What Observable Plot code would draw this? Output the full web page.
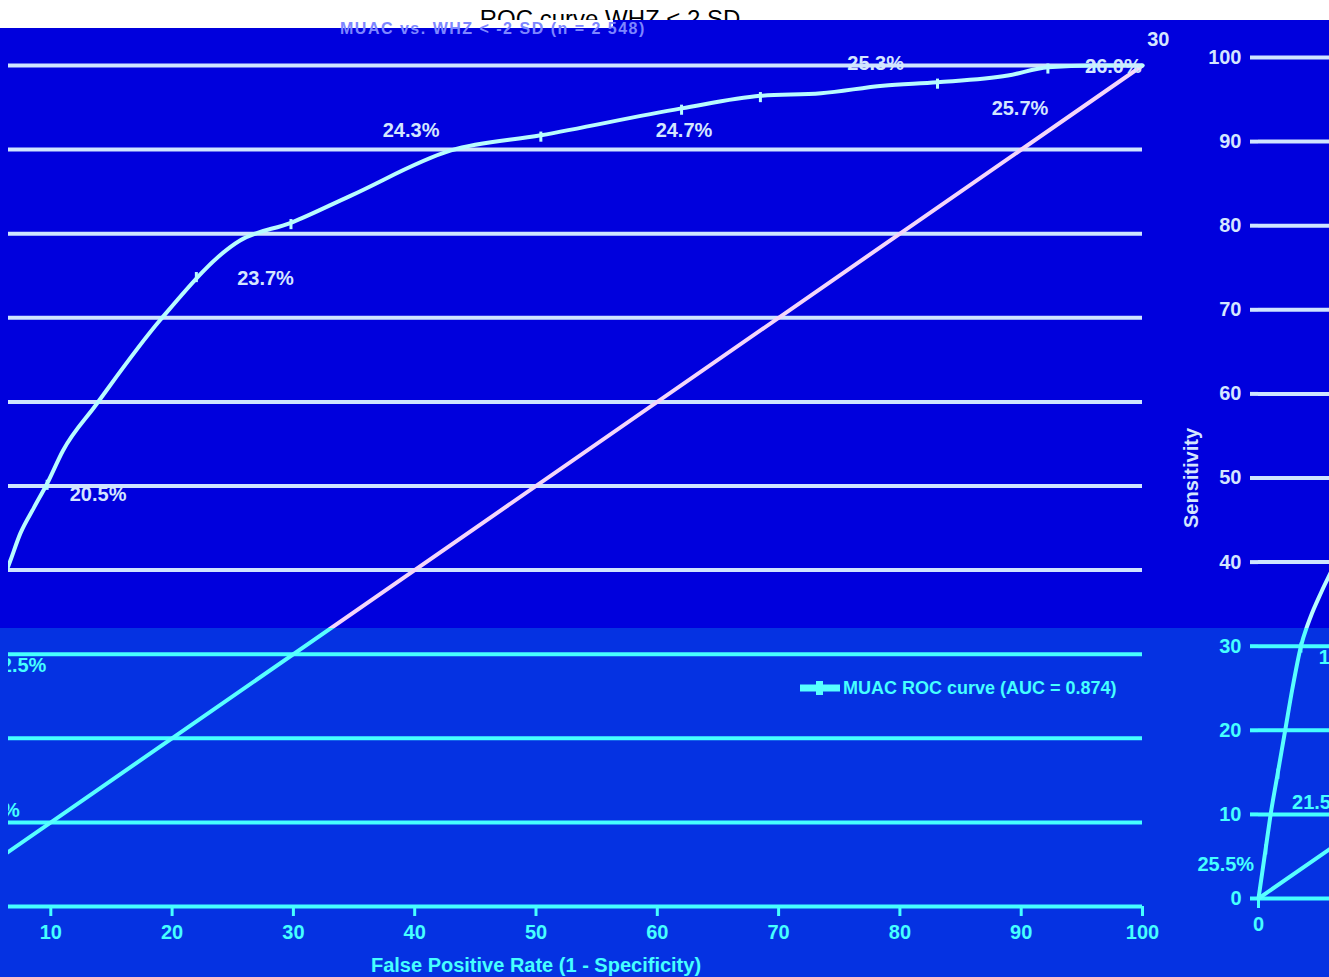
<!DOCTYPE html>
<html><head><meta charset="utf-8">
<script src="https://cdn.jsdelivr.net/npm/d3@7"></script>
<script src="https://cdn.jsdelivr.net/npm/@observablehq/plot@0.6"></script>
<style>
html,body{margin:0;padding:0;background:#fff;}
#page{position:relative;width:1329px;height:977px;overflow:hidden;background:#fff;font-family:"Liberation Sans",Arial,sans-serif;}
.clip{position:absolute;overflow:hidden;}
.clip svg{position:absolute;max-width:none !important;}
#title{position:absolute;left:0;width:1220px;top:7px;height:13px;overflow:hidden;text-align:center;font-size:24px;line-height:24px;color:#000;z-index:5;}
#subtitle{position:absolute;left:340px;top:21px;font-size:16px;line-height:15px;letter-spacing:1.5px;font-weight:bold;color:#7d86ff;z-index:6;white-space:nowrap;}
</style></head><body><div id="page"><div id="title"></div><div id="subtitle"></div></div>
<script>
// ---- data ----
const titleText = "ROC curve WHZ < 2 SD";
const subtitleText = "MUAC vs. WHZ < -2 SD (n = 2 548)";
const xLabel = "False Positive Rate (1 - Specificity)";
const yLabel = "Sensitivity";
const legendText = "MUAC ROC curve (AUC = 0.874)";
const xTicks = [0, 10, 20, 30, 40, 50, 60, 70, 80, 90, 100];
const yTicks = [0, 10, 20, 30, 40, 50, 60, 70, 80, 90, 100];

// ROC curve (false positive rate %, sensitivity %)
const fpr = [0, 0.3, 0.6, 1.0, 1.6, 2.2, 2.8, 3.5, 4.3, 5.2, 6.5, 7.5, 8.6, 9.7, 11, 13.7, 19, 25.6, 29.8, 34.7, 43, 50.4, 62, 68.5, 73.5, 78.6, 83.1, 88.9, 92.2, 96, 100];
const sensitivity = [0, 3, 6, 10, 15, 20, 25, 30, 33.5, 36.5, 40.5, 44.4, 47.4, 50.3, 54.2, 59.6, 69.7, 79.2, 81.3, 84.5, 89.9, 91.7, 94.9, 96.4, 96.7, 97.6, 98, 98.8, 99.8, 100, 100];

// chance line
const chanceFpr = [0, 100];
const chanceSens = [0, 100];

// threshold markers on the curve
const markerFpr = [0.6, 1.6, 3.5, 9.7, 22, 29.8, 50.4, 62, 68.5, 83.1, 92.2, 96];
const markerSens = [6, 15, 30, 50.3, 75, 81.3, 91.7, 94.9, 96.4, 98, 99.8, 100];

// threshold labels (text and where they sit, in data units)
const labelText = ["25.5%", "21.5%", "12.5%", "20.5%", "23.7%", "24.3%", "24.7%", "25.3%", "25.7%", "26.0%", "30"];
const labelFpr = [-2.7, 5.1, 7.3, 13.9, 27.7, 39.7, 62.2, 78.0, 89.9, 97.6, 101.3];
const labelSens = [4.0, 11.4, 28.7, 49.0, 74.7, 92.3, 92.3, 100.2, 94.9, 99.9, 103.1];

const FONT = "'Liberation Sans', Arial, sans-serif";
const palettes = {
  upper: {bg: "#0000dd", grid: "#cfe4ff", text: "#d4e6ff", curve: "#b8fcff", chance: "#f4d6fa"},
  lower: {bg: "#0532e2", grid: "#46ffff", text: "#46ffff", curve: "#58ffff", chance: "#58ffff"}
};
const W = 1380, H = 957;

function makeChart(p) {
  const roc = fpr.map((f, i) => ({f, s: sensitivity[i]}));
  const chance = chanceFpr.map((f, i) => ({f, s: chanceSens[i]}));
  const pts = markerFpr.map((f, i) => ({f, s: markerSens[i]}));
  const labels = labelText.map((t, i) => ({t, f: labelFpr[i], s: labelSens[i]}));
  const tickSym = {draw(ctx, size) { const h = Math.sqrt(size); ctx.moveTo(0, -h * 0.35); ctx.lineTo(0, h * 0.6); }};
  const legend = (index, scales, values, dims) => {
    const g = d3.create("svg:g");
    const x0 = dims.width - dims.marginRight - 342;
    const y0 = dims.height - dims.marginBottom - 218;
    g.append("line").attr("x1", x0).attr("x2", x0 + 40).attr("y1", y0).attr("y2", y0)
      .attr("stroke", p.curve).attr("stroke-width", 7);
    g.append("rect").attr("x", x0 + 16).attr("y", y0 - 7).attr("width", 7).attr("height", 14).attr("fill", p.curve);
    g.append("text").attr("x", x0 + 43).attr("y", y0).attr("dy", "0.35em").attr("fill", p.text)
      .attr("text-anchor", "start").attr("font-size", 18).attr("font-weight", "bold").text(legendText);
    return g.node();
  };
  const svg = Plot.plot({
    width: W, height: H,
    marginLeft: 108, marginRight: W - 1321, marginTop: 37, marginBottom: 79,
    style: {background: p.bg, fontFamily: FONT, fontSize: "20px", fontWeight: "bold", color: p.text, overflow: "visible"},
    x: {domain: [0, 100]},
    y: {domain: [0, 100]},
    marks: [
      Plot.gridY(yTicks, {stroke: p.grid, strokeOpacity: 1, strokeWidth: 4}),
      Plot.axisY(yTicks, {tickSize: 8, tickPadding: 9, stroke: p.grid, strokeWidth: 4, fill: p.text, label: null, fontSize: 20}),
      Plot.axisX(xTicks, {tickSize: 10, tickPadding: 8, stroke: p.grid, strokeWidth: 3, fill: p.text, label: null, fontSize: 20}),
      Plot.line(chance, {x: "f", y: "s", stroke: p.chance, strokeWidth: 4}),
      Plot.line(roc, {x: "f", y: "s", stroke: p.curve, strokeWidth: 4, curve: "monotone-x"}),
      Plot.dot(pts, {x: "f", y: "s", symbol: tickSym, r: 6, fill: "none", stroke: p.curve, strokeWidth: 3}),
      Plot.text(labels, {x: "f", y: "s", text: "t", fill: p.text, fontSize: 20, fontWeight: "bold"}),
      Plot.text([yLabel], {frameAnchor: "left", dx: -67, rotate: -90, textAnchor: "middle", fill: p.text, fontSize: 20}),
      Plot.text([xLabel], {frameAnchor: "bottom", dy: 65, textAnchor: "middle", fill: p.text, fontSize: 20}),
      legend
    ]
  });
  svg.style.maxWidth = "none";
  svg.style.width = W + "px";
  svg.style.height = H + "px";
  return svg;
}

const page = document.getElementById("page");
document.getElementById("title").textContent = titleText;
document.getElementById("subtitle").textContent = subtitleText;

// blue field under the chart
const field = document.createElement("div");
field.style.cssText = "position:absolute;left:0;top:20px;width:1329px;height:957px;background:" + palettes.upper.bg;
page.appendChild(field);
const fieldLow = document.createElement("div");
fieldLow.style.cssText = "position:absolute;left:0;top:628px;width:1329px;height:349px;background:" + palettes.lower.bg;
page.appendChild(fieldLow);
const whitePatch = document.createElement("div");
whitePatch.style.cssText = "position:absolute;left:0;top:20px;width:613px;height:8px;background:#fff;z-index:4";
page.appendChild(whitePatch);

const B = 1176, SPLIT = 628, L = 8;
function place(pal, left, top, w, h, sx, sy) {
  const d = document.createElement("div");
  d.className = "clip";
  d.style.left = left + "px"; d.style.top = top + "px";
  d.style.width = w + "px"; d.style.height = h + "px";
  const svg = makeChart(palettes[pal]);
  svg.style.left = (sx - left) + "px";
  svg.style.top = (sy - top) + "px";
  d.appendChild(svg);
  page.appendChild(d);
}
// right part (chart origin at x=1150, y=20)
place("upper", B, 20, 1329 - B, SPLIT - 20, 1150, 20);
place("lower", B, SPLIT, 1329 - B, 977 - SPLIT, 1150, 20);
// wrapped-around part (shifted by one period and 8px down)
place("upper", L, 28, B - L, SPLIT - 28, 1150 - 1329, 28);
place("lower", L, SPLIT, B - L, 977 - SPLIT, 1150 - 1329, 28);
</script></body></html>
